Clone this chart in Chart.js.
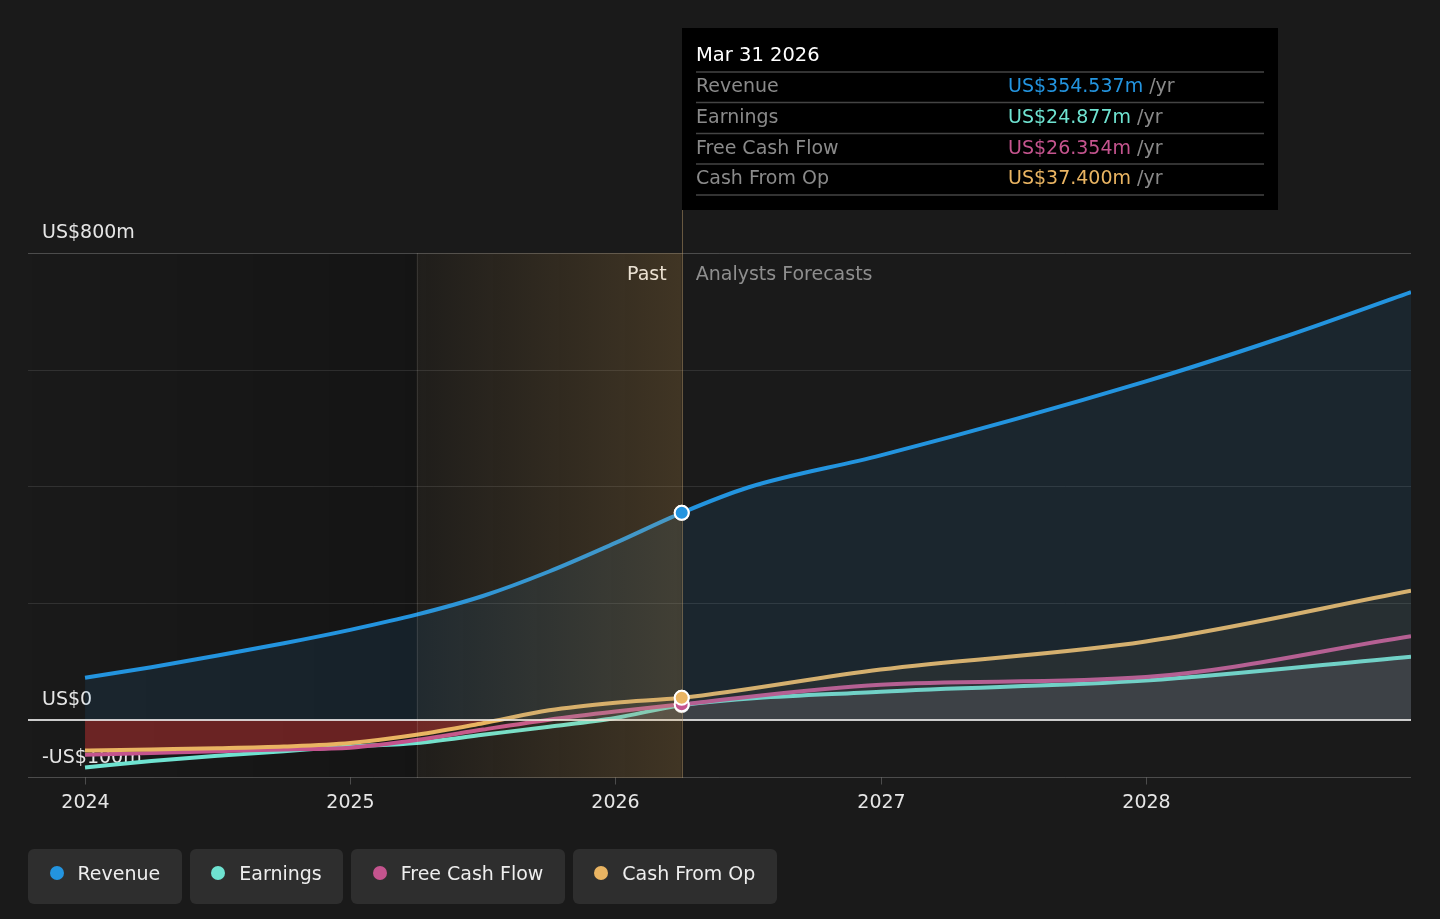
<!DOCTYPE html>
<html>
<head>
<meta charset="utf-8">
<script src="https://cdn.jsdelivr.net/npm/chart.js@4/dist/chart.umd.min.js"></script>
<style>
  body { margin: 0; background: #1a1a1a; font-family: "DejaVu Sans", sans-serif; }
  #wrap { position: relative; width: 1440px; height: 919px; }
  #legend { position: absolute; left: 28px; top: 849px; display: flex; gap: 8px; }
  .item { height: 55px; box-sizing: border-box; background: #2e2e2e; border-radius: 6px; padding: 0 21.5px 7px 21.5px; display: flex; align-items: center; color: #eee; font-size: 19px; }
  .dot { width: 14px; height: 14px; border-radius: 50%; margin-right: 14px; }
</style>
</head>
<body>
<div id="wrap">
  <canvas id="chart" width="1440" height="919" style="width:1440px;height:919px"></canvas>
  <div id="legend"></div>
</div>
<script>
// data (US$m, x = fractional year; null = no point there)
const years    = [2024, 2024.25, 2024.5, 2024.75, 2025, 2025.25, 2025.5, 2025.75, 2026, 2026.25, 2026.5, 2027, 2028, 2028.5, 2029];
const revenue  = [72, 90, 110, 131, 154, 180, 212, 254, 303, 354.537, 398, 453, 580, 653, 733];
const earnings = [-82, -71, -62, -54, -46, -40, -26, -12, 3, 24.877, null, 48, 67, null, 108];
const fcf      = [-60, -57, -54, -51, -48, -35, -17, 0, 14, 26.354, null, 60, 73, null, 143];
const cashOp   = [-53, -51, -49, -46, -40, -26, -6, 16, 29, 37.4, null, 86, 134, null, 221];

const seriesNames  = ["Revenue", "Earnings", "Free Cash Flow", "Cash From Op"];
const seriesColors = ["#2394df", "#6fe3d1", "#c4548e", "#e9b462"];
const xTicks = [2024, 2025, 2026, 2027, 2028];
const yLabels = [[800, "US$800m"], [0, "US$0"], [-100, "-US$100m"]];
const gridValues = [200, 400, 600];
const pastStart = 2025.25;   // highlighted last year of history
const nowIndex = 9;          // Mar 31 2026
const nowLabel = "Mar 31 2026";

const FONT = '"DejaVu Sans", sans-serif';

function pts(arr) { return years.map((x, i) => ({ x: x, y: arr[i] })); }

function ds(i, arr, fill, order) {
  return {
    label: seriesNames[i],
    data: pts(arr),
    borderColor: seriesColors[i],
    backgroundColor: seriesColors[i],
    borderWidth: 4,
    cubicInterpolationMode: "monotone",
    spanGaps: true,
    pointRadius: c => c.dataIndex === nowIndex ? 7 : 0,
    pointBorderColor: "#fff",
    pointBorderWidth: 2,
    pointHoverRadius: 0,
    fill: fill,
    order: order
  };
}

const bgPlugin = {
  id: "bg",
  beforeDatasetsDraw(chart) {
    const { ctx, chartArea: a, scales: { x, y } } = chart;
    const xp = x.getPixelForValue(pastStart), xn = x.getPixelForValue(years[nowIndex]);
    ctx.save();
    // darker past
    let g = ctx.createLinearGradient(a.left, 0, xp, 0);
    g.addColorStop(0, "rgba(0,0,0,0)");
    g.addColorStop(1, "rgba(0,0,0,0.2)");
    ctx.fillStyle = g;
    ctx.fillRect(a.left, a.top, xp - a.left, a.bottom - a.top);
    // grid
    ctx.lineWidth = 1;
    ctx.strokeStyle = "rgba(255,255,255,0.1)";
    gridValues.forEach(v => {
      const py = Math.round(y.getPixelForValue(v)) + 0.5;
      ctx.beginPath(); ctx.moveTo(a.left, py); ctx.lineTo(a.right, py); ctx.stroke();
    });
    ctx.strokeStyle = "rgba(255,255,255,0.22)";
    let py = Math.round(y.getPixelForValue(800)) + 0.5;
    ctx.beginPath(); ctx.moveTo(a.left, py); ctx.lineTo(a.right, py); ctx.stroke();
    py = Math.round(y.getPixelForValue(-100)) - 0.5;
    ctx.beginPath(); ctx.moveTo(a.left, py); ctx.lineTo(a.right, py); ctx.stroke();
    // x ticks
    ctx.fillStyle = "#e6e6e6";
    ctx.font = "19px " + FONT;
    ctx.textAlign = "center";
    ctx.textBaseline = "middle";
    xTicks.forEach(t => {
      const px = Math.round(x.getPixelForValue(t)) + 0.5;
      ctx.beginPath(); ctx.moveTo(px, py); ctx.lineTo(px, py + 7); ctx.stroke();
      ctx.fillText(String(t), px, py + 26);
    });
    // y labels
    ctx.textAlign = "left";
    yLabels.forEach(([v, t]) => {
      ctx.fillText(t, a.left + 14, y.getPixelForValue(v) - 20);
    });
    // past / forecast text
    ctx.textAlign = "right";
    ctx.fillStyle = "#ececec";
    ctx.fillText("Past", xn - 15, a.top + 22);
    ctx.textAlign = "left";
    ctx.fillStyle = "#8e8e8e";
    ctx.fillText("Analysts Forecasts", xn + 14, a.top + 22);
    ctx.restore();
  },
  afterDatasetsDraw(chart) {
    const { ctx, chartArea: a, scales: { x, y } } = chart;
    const xp = x.getPixelForValue(pastStart), xn = x.getPixelForValue(years[nowIndex]);
    ctx.save();
    // zero line
    const zy = Math.round(y.getPixelForValue(0));
    ctx.fillStyle = "rgba(235,235,235,0.85)";
    ctx.fillRect(a.left, zy - 1, a.right - a.left, 2);
    // last-year highlight over the lines
    const g = ctx.createLinearGradient(xp, 0, xn, 0);
    g.addColorStop(0, "rgba(230,170,80,0.03)");
    g.addColorStop(1, "rgba(230,170,80,0.19)");
    ctx.fillStyle = g;
    ctx.fillRect(xp, a.top, xn - xp, a.bottom - a.top);
    ctx.fillStyle = "rgba(255,255,255,0.1)";
    ctx.fillRect(Math.round(xp), a.top, 1, a.bottom - a.top);
    ctx.fillStyle = "rgba(200,165,110,0.45)";
    ctx.fillRect(Math.round(xn), 210, 1, a.bottom - 210);
    ctx.restore();
    // marker dots on top
    chart.data.datasets.forEach((d, i) => {
      const meta = chart.getDatasetMeta(i);
      if (i !== 1) meta.data[nowIndex].draw(ctx, a);
    });
  },
  afterDraw(chart) {
    const ctx = chart.ctx;
    const bx = Math.round(chart.scales.x.getPixelForValue(years[nowIndex]));
    ctx.save();
    ctx.fillStyle = "#000";
    ctx.fillRect(bx, 28, 596, 182);
    ctx.font = "19.5px " + FONT;
    ctx.fillStyle = "#fff";
    ctx.textBaseline = "middle";
    ctx.textAlign = "left";
    ctx.fillText(nowLabel, bx + 14, 56);
    ctx.strokeStyle = "#444";
    ctx.lineWidth = 1.5;
    const lineY = [72, 102.5, 133.5, 164, 195];
    lineY.forEach(ly => { ctx.beginPath(); ctx.moveTo(bx + 14, ly); ctx.lineTo(bx + 582, ly); ctx.stroke(); });
    const vals = [revenue, earnings, fcf, cashOp];
    ctx.font = "19px " + FONT;
    seriesNames.forEach((n, i) => {
      const ty = (lineY[i] + lineY[i + 1]) / 2;
      ctx.fillStyle = "#8a8a8a";
      ctx.fillText(n, bx + 14, ty);
      const v = "US$" + vals[i][nowIndex].toFixed(3) + "m";
      ctx.fillStyle = seriesColors[i];
      ctx.fillText(v, bx + 326, ty);
      const w = ctx.measureText(v).width;
      ctx.fillStyle = "#8a8a8a";
      ctx.fillText(" /yr", bx + 326 + w, ty);
    });
    ctx.restore();
  }
};

new Chart(document.getElementById("chart"), {
  type: "line",
  data: {
    datasets: [
      ds(0, revenue, { target: "origin", above: "rgba(35,148,223,0.1)", below: "rgba(0,0,0,0)" }, 0),
      ds(1, earnings, { target: "origin", above: "rgba(190,190,200,0.12)", below: "rgba(0,0,0,0)" }, 3),
      ds(2, fcf, { target: "origin", above: "rgba(196,84,142,0.05)", below: "rgba(0,0,0,0)" }, 2),
      ds(3, cashOp, { target: "origin", above: "rgba(233,180,98,0.07)", below: "rgba(200,48,48,0.47)" }, 1)
    ]
  },
  options: {
    responsive: false,
    animation: false,
    layout: { padding: { left: 28, right: 29, top: 253, bottom: 141 } },
    scales: {
      x: { type: "linear", min: 2023.785, max: 2029, display: false },
      y: { min: -100, max: 800, display: false }
    },
    plugins: { legend: { display: false }, tooltip: { enabled: false } }
  },
  plugins: [bgPlugin]
});

const legend = document.getElementById("legend");
seriesNames.forEach((n, i) => {
  const el = document.createElement("div");
  el.className = "item";
  el.innerHTML = '<span class="dot" style="background:' + seriesColors[i] + '"></span>' + n;
  legend.appendChild(el);
});
</script>
</body>
</html>
